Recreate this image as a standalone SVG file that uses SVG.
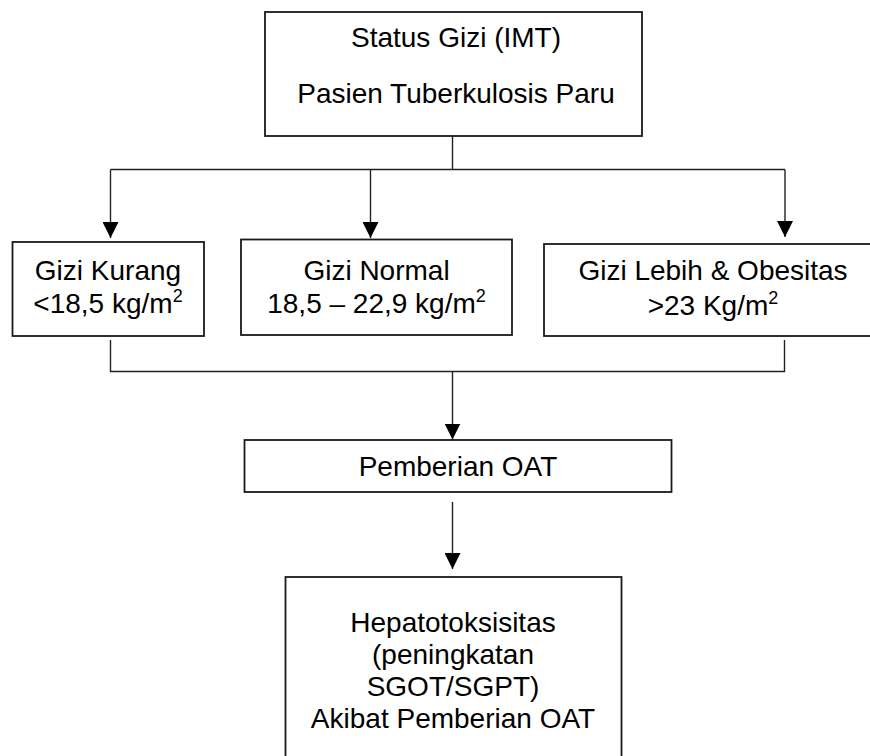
<svg xmlns="http://www.w3.org/2000/svg" width="870" height="756" viewBox="0 0 870 756">
<style>
.box{fill:#fff;stroke:#1a1a1a;stroke-width:1.8}
.t{font-family:"Liberation Sans",Arial,sans-serif;font-size:28px;fill:#000;text-anchor:middle}
.sup{font-size:18px}
.c{fill:none;stroke:#222;stroke-width:1.4}
</style>
<defs>
<marker id="ah" markerUnits="userSpaceOnUse" markerWidth="16" markerHeight="16" refX="15" refY="7.5" orient="auto" viewBox="0 0 15 15">
<path d="M0,0 L15,7.5 L0,15 z" fill="#000"/>
</marker>
</defs>
<rect width="870" height="756" fill="#fff"/>
<g id="connectors">
<path class="c" d="M452.5 136 V169.5"/>
<path class="c" d="M110.5 169.5 H785"/>
<path class="c" d="M110.5 169.5 V238" marker-end="url(#ah)"/>
<path class="c" d="M370.5 169.5 V238" marker-end="url(#ah)"/>
<path class="c" d="M785 169.5 V237" marker-end="url(#ah)"/>
<path class="c" d="M110.5 340 V371.5 H784.5 V340"/>
<path class="c" d="M452.5 371.5 V439.5" marker-end="url(#ah)"/>
<path class="c" d="M452.5 502 V569" marker-end="url(#ah)"/>
</g>
<g id="status">
<rect class="box" x="265" y="12" width="377" height="124"/>
<text class="t" x="456" y="47">Status Gizi (IMT)</text>
<text class="t" x="456" y="103">Pasien Tuberkulosis Paru</text>
</g>
<g id="kurang">
<rect class="box" x="12.5" y="242" width="191.5" height="94"/>
<text class="t" x="108" y="280">Gizi Kurang</text>
<text class="t" x="108" y="313">&lt;18,5 kg/m<tspan class="sup" dy="-11">2</tspan></text>
</g>
<g id="normal">
<rect class="box" x="241" y="239.5" width="271" height="95.5"/>
<text class="t" x="376.5" y="280">Gizi Normal</text>
<text class="t" x="376.5" y="313">18,5 – 22,9 kg/m<tspan class="sup" dy="-11">2</tspan></text>
</g>
<g id="lebih">
<rect class="box" x="544" y="244" width="330" height="92"/>
<text class="t" x="713" y="280">Gizi Lebih &amp; Obesitas</text>
<text class="t" x="713" y="315">&gt;23 Kg/m<tspan class="sup" dy="-11">2</tspan></text>
</g>
<g id="pemberian">
<rect class="box" x="244.5" y="440" width="427" height="52"/>
<text class="t" x="458" y="476">Pemberian OAT</text>
</g>
<g id="hepato">
<rect class="box" x="285.5" y="577" width="336" height="200"/>
<text class="t" x="453" y="632">Hepatotoksisitas</text>
<text class="t" x="453" y="664">(peningkatan</text>
<text class="t" x="453" y="696">SGOT/SGPT)</text>
<text class="t" x="453" y="728">Akibat Pemberian OAT</text>
</g>
</svg>
